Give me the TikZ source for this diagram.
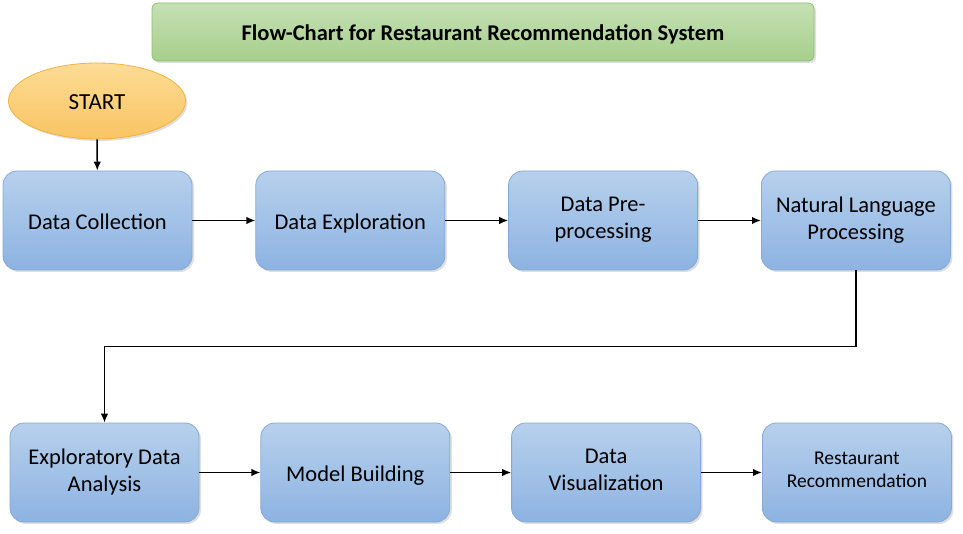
\documentclass[tikz,border=0pt]{standalone}
\usepackage{fontspec}
\setmainfont{Carlito}
\usetikzlibrary{arrows.meta, positioning, shapes.geometric, shadows}

\definecolor{boxtop}{HTML}{B7D0EC}
\definecolor{boxbot}{HTML}{8DB3E2}
\definecolor{boxline}{HTML}{85AAD8}
\definecolor{titletop}{HTML}{C6E0B4}
\definecolor{titlebot}{HTML}{A6CF8C}
\definecolor{titleline}{HTML}{8CBF6E}
\definecolor{starttop}{HTML}{FDDC95}
\definecolor{startbot}{HTML}{F9C463}
\definecolor{startline}{HTML}{F2B33D}

\tikzset{
  lowtext/.style = {execute at begin node=\rule{0pt}{23.5pt},
    execute at end node=\rule[-5.5pt]{0pt}{5.5pt}},
  stepbox/.style = {draw=boxline, line width=0.8pt, rounded corners=14pt,
    top color=boxtop, bottom color=boxbot,
    minimum width=189pt, minimum height=99pt, align=center,
    font=\fontsize{22.5}{27}\selectfont, lowtext,
    drop shadow={opacity=0.25, shadow xshift=2pt, shadow yshift=-2pt}},
  flow/.style = {line width=1.5pt, -{Latex[length=9pt,width=7.5pt]}},
}

\begin{document}
\begin{tikzpicture}[x=1pt, y=1pt, node distance=63pt]
\useasboundingbox (0,0) rectangle (963,533);

% title bar
\node[draw=titleline, line width=0.8pt, rounded corners=6pt,
      top color=titletop, bottom color=titlebot,
      minimum width=662pt, minimum height=58pt, inner sep=0pt, lowtext,
      font=\bfseries\fontsize{22.5}{27}\selectfont,
      drop shadow={opacity=0.25, shadow xshift=2pt, shadow yshift=-2pt}]
      (title) at (483,501) {Flow-Chart for Restaurant Recommendation System};

% start
\node[ellipse, draw=startline, line width=0.8pt,
      top color=starttop, bottom color=startbot,
      minimum width=177pt, minimum height=76pt, inner sep=0pt, lowtext,
      font=\fontsize{23}{27}\selectfont,
      drop shadow={opacity=0.25, shadow xshift=2pt, shadow yshift=-2pt}]
      (start) at (97,432) {START};

% first row
\node[stepbox] (collect) at (97.5,312.5) {Data Collection};
\node[stepbox, right=of collect] (explore) {Data Exploration};
\node[stepbox, right=of explore] (prep) {Data Pre-\\processing};
\node[stepbox, right=of prep] (nlp) {Natural Language\\Processing};

% second row
\node[stepbox] (eda) at (104.5,60.5) {Exploratory Data\\Analysis};
\node[stepbox, right=61pt of eda] (model) {Model Building};
\node[stepbox, right=61pt of model] (visual) {Data\\Visualization};
\node[stepbox, right=61pt of visual, font=\fontsize{19.5}{23.5}\selectfont] (recommend) {Restaurant\\Recommendation};

% connectors
\draw[flow] (start) -- (collect);
\draw[flow] (collect) -- (explore);
\draw[flow] (explore) -- (prep);
\draw[flow] (prep) -- (nlp);
\draw[flow] (nlp.south) -- ++(0,-76) -| (eda.north);
\draw[flow] (eda) -- (model);
\draw[flow] (model) -- (visual);
\draw[flow] (visual) -- (recommend);
\end{tikzpicture}
\end{document}
